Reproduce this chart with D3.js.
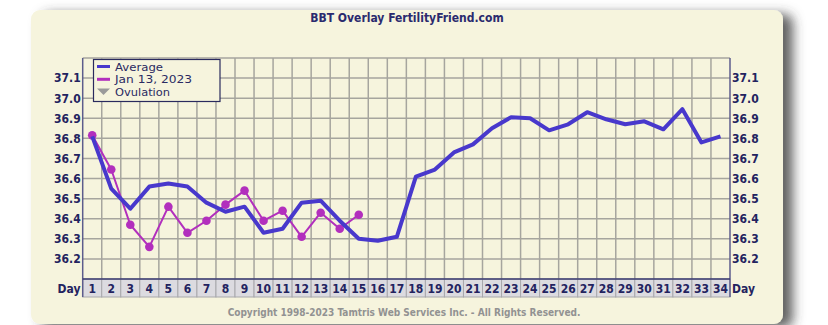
<!DOCTYPE html>
<html>
<head>
<meta charset="utf-8">
<script src="https://cdn.jsdelivr.net/npm/d3@7/dist/d3.min.js"></script>
<style>
  html, body { margin: 0; padding: 0; background: #ffffff; }
  svg { display: block; }
</style>
</head>
<body>
<svg id="chart" width="828" height="325"></svg>
<script>
// ---- data ----
const days = d3.range(1, 35);
const yTicks = [36.2, 36.3, 36.4, 36.5, 36.6, 36.7, 36.8, 36.9, 37.0, 37.1];
const averageTemps = [36.81, 36.55, 36.45, 36.56, 36.575, 36.56, 36.48, 36.435, 36.46, 36.33,
                      36.35, 36.48, 36.49, 36.39, 36.30, 36.29, 36.31, 36.61, 36.645, 36.73,
                      36.77, 36.85, 36.905, 36.90, 36.84, 36.87, 36.93, 36.895, 36.87, 36.885,
                      36.845, 36.945, 36.78, 36.81];
const jan13Temps = [36.815, 36.645, 36.37, 36.26, 36.46, 36.33, 36.39, 36.47, 36.54, 36.39,
                    36.44, 36.31, 36.43, 36.35, 36.42];
const legendLabels = ["Average", "Jan 13, 2023", "Ovulation"];
const titleText = "BBT Overlay FertilityFriend.com";
const copyrightText = "Copyright 1998-2023 Tamtris Web Services Inc. - All Rights Reserved.";

// ---- layout ----
const svg = d3.select("#chart");
const plotL = 82.7, plotR = 730, plotT = 58, plotB = 279, stripB = 297;
const navy = "#23235f";
const fontB = "'DejaVu Sans Condensed', 'DejaVu Sans', sans-serif";

const x = d3.scaleBand().domain(days).range([plotL, plotR]).padding(0);
const y = d3.scaleLinear().domain([36.1, 37.2]).range([plotB, plotT]);
const cx = d => x(d) + x.bandwidth() / 2;

// shadow filter
const defs = svg.append("defs");
const f = defs.append("filter").attr("id", "shadow").attr("x", "-10%").attr("y", "-10%").attr("width", "130%").attr("height", "130%");
f.append("feDropShadow").attr("dx", 10).attr("dy", 4).attr("stdDeviation", 6)
  .attr("flood-color", "#3a3a3a").attr("flood-opacity", 0.8);

// panel
svg.append("rect").attr("x", 31).attr("y", 10).attr("width", 752).attr("height", 314)
  .attr("rx", 9).attr("ry", 9).attr("fill", "#f6f4dd").attr("filter", "url(#shadow)");

// title
svg.append("text").attr("x", 407).attr("y", 22).attr("text-anchor", "middle")
  .attr("font-family", fontB).attr("font-weight", "bold").attr("font-size", 12)
  .attr("fill", "#2a2a6e").text(titleText);

// grid
const grid = svg.append("g");
grid.selectAll("line.h").data(yTicks.concat([37.2])).join("line")
  .attr("x1", plotL).attr("x2", plotR).attr("y1", d => y(d)).attr("y2", d => y(d))
  .attr("stroke", "#a6a59e").attr("stroke-width", 1.5);
grid.selectAll("line.v").data(days.slice(1)).join("line")
  .attr("x1", d => x(d)).attr("x2", d => x(d)).attr("y1", plotT).attr("y2", plotB)
  .attr("stroke", "#a6a59e").attr("stroke-width", 1.5);

// day strip
const strip = svg.append("g");
strip.selectAll("rect").data(days).join("rect")
  .attr("x", d => x(d)).attr("y", plotB).attr("width", x.bandwidth()).attr("height", stripB - plotB)
  .attr("fill", "#dcdbe0").attr("stroke", "#a8a8ac").attr("stroke-width", 1);
strip.selectAll("text").data(days).join("text")
  .attr("x", d => cx(d)).attr("y", plotB + 13.5).attr("text-anchor", "middle")
  .attr("font-family", fontB).attr("font-weight", "bold").attr("font-size", 12)
  .attr("fill", navy).text(d => d);

// axes lines
svg.append("line").attr("x1", plotL).attr("x2", plotL).attr("y1", plotT).attr("y2", stripB)
  .attr("stroke", "#5c5c8c").attr("stroke-width", 1.5);
svg.append("line").attr("x1", plotR).attr("x2", plotR).attr("y1", plotT).attr("y2", stripB)
  .attr("stroke", "#5c5c8c").attr("stroke-width", 1.5);
svg.append("line").attr("x1", plotL).attr("x2", plotR).attr("y1", plotB).attr("y2", plotB)
  .attr("stroke", "#3a3a70").attr("stroke-width", 1.5);

// y tick labels using axes
const leftAxis = d3.axisLeft(y).tickValues(yTicks).tickFormat(d3.format(".1f")).tickSize(0).tickPadding(2);
const rightAxis = d3.axisRight(y).tickValues(yTicks).tickFormat(d3.format(".1f")).tickSize(0).tickPadding(2);
const gl = svg.append("g").attr("transform", `translate(${plotL},0)`).call(leftAxis);
const gr = svg.append("g").attr("transform", `translate(${plotR},0)`).call(rightAxis);
[gl, gr].forEach(g => {
  g.select(".domain").remove();
  g.selectAll("text").attr("font-family", fontB).attr("font-weight", "bold")
    .attr("font-size", 12).attr("fill", navy);
});

// Day labels
svg.append("text").attr("x", 80.5).attr("y", plotB + 13.5).attr("text-anchor", "end")
  .attr("font-family", fontB).attr("font-weight", "bold").attr("font-size", 12).attr("fill", navy).text("Day");
svg.append("text").attr("x", 732).attr("y", plotB + 13.5).attr("text-anchor", "start")
  .attr("font-family", fontB).attr("font-weight", "bold").attr("font-size", 12).attr("fill", navy).text("Day");

// lines
const line = d3.line().x((d, i) => cx(days[i])).y(d => y(d));
svg.append("path").datum(jan13Temps).attr("d", line).attr("fill", "none")
  .attr("stroke", "#b22fbd").attr("stroke-width", 2).attr("stroke-linejoin", "round");
svg.selectAll("circle.j").data(jan13Temps).join("circle")
  .attr("cx", (d, i) => cx(days[i])).attr("cy", d => y(d)).attr("r", 4.3).attr("fill", "#b22fbd");
svg.append("path").datum(averageTemps).attr("d", line).attr("fill", "none")
  .attr("stroke", "#4838cc").attr("stroke-width", 4).attr("stroke-linejoin", "round");

// legend
const lg = svg.append("g");
lg.append("rect").attr("x", 93.5).attr("y", 59.5).attr("width", 126.5).attr("height", 42)
  .attr("fill", "#f6f4dd").attr("stroke", "#2a2a5e").attr("stroke-width", 1.2);
const ly = [66.5, 79.3, 92.1];
lg.append("line").attr("x1", 97).attr("x2", 110).attr("y1", ly[0]).attr("y2", ly[0])
  .attr("stroke", "#4838cc").attr("stroke-width", 3);
lg.append("line").attr("x1", 97).attr("x2", 110).attr("y1", ly[1]).attr("y2", ly[1])
  .attr("stroke", "#b22fbd").attr("stroke-width", 3);
lg.append("path").attr("d", `M97,${ly[2]-3.5} L110,${ly[2]-3.5} L103.5,${ly[2]+3} Z`).attr("fill", "#9a9a9a");
lg.selectAll("text").data(legendLabels).join("text")
  .attr("x", 115).attr("y", (d, i) => ly[i] + 4.1)
  .attr("font-family", "'DejaVu Sans', Verdana, sans-serif").attr("font-size", 11)
  .attr("textLength", (d, i) => [48, 77, 55][i]).attr("lengthAdjust", "spacingAndGlyphs")
  .attr("fill", "#2a2a62").text(d => d);

// copyright
svg.append("text").attr("x", 404).attr("y", 316).attr("text-anchor", "middle")
  .attr("font-family", fontB).attr("font-weight", "bold").attr("font-size", 10)
  .attr("fill", "#929292").text(copyrightText);
</script>
</body>
</html>
